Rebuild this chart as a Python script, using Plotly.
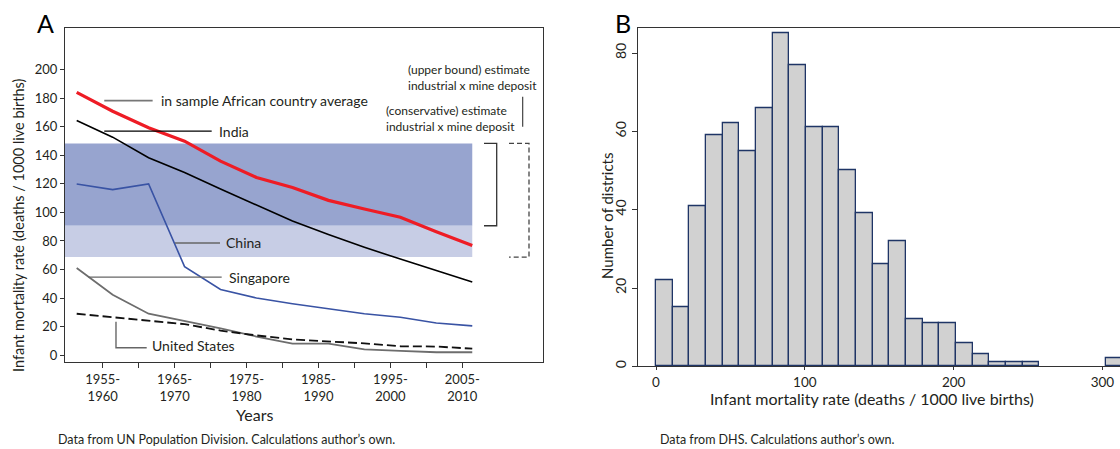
import plotly.graph_objects as go

W, H = 1120, 449
FONT = "Lato"
TXT = "#231f20"


def px(x):
    return x / W


def py(y):
    return 1 - y / H


# ---------------- Panel A data ----------------
periods = ["1950-1955", "1955-1960", "1960-1965", "1965-1970", "1970-1975",
           "1975-1980", "1980-1985", "1985-1990", "1990-1995", "1995-2000",
           "2000-2005", "2005-2010"]
africa_avg = [184.2, 171.0, 159.4, 150.0, 136.0, 124.5, 117.5, 108.5, 102.4, 96.6, 86.5, 76.8]
india = [164.5, 152.8, 138.4, 128.0, 116.5, 105.5, 94.0, 84.5, 75.6, 67.3, 59.3, 51.2]
china = [120.0, 116.0, 120.0, 62.0, 46.0, 40.0, 36.0, 32.5, 29.0, 26.5, 22.5, 20.5]
singapore = [61.0, 42.3, 29.0, 23.8, 18.8, 13.0, 8.0, 8.0, 4.0, 3.0, 2.0, 2.0]
united_states = [29.0, 26.5, 24.0, 21.7, 17.2, 13.8, 11.0, 9.8, 8.2, 6.2, 6.0, 4.5]

# estimate bands (deaths / 1000 live births)
conservative_band = [90.7, 148.4]
upper_bound_band = [68.7, 148.4]

x_tick_text = ["1955-<br>1960", "", "1965-<br>1970", "", "1975-<br>1980", "",
               "1985-<br>1990", "", "1995-<br>2000", "", "2005-<br>2010"]
y_ticks_a = [0, 20, 40, 60, 80, 100, 120, 140, 160, 180, 200]

# ---------------- Panel B data ----------------
bin_width = 11.2
district_counts = [22, 15, 41, 59, 62, 55, 66, 85, 77, 61, 61, 50, 39, 26, 32,
                   12, 11, 11, 6, 3, 1, 1, 1, 0, 0, 0, 0, 2]
x_ticks_b = [0, 100, 200, 300]
y_ticks_b = [0, 20, 40, 60, 80]

x_idx = list(range(len(periods)))

fig = go.Figure()

# Panel A lines
fig.add_trace(go.Scatter(x=x_idx, y=singapore, mode="lines",
                         line=dict(color="#6d6d6d", width=1.8), xaxis="x", yaxis="y"))
fig.add_trace(go.Scatter(x=x_idx, y=united_states, mode="lines",
                         line=dict(color="#111111", width=1.8, dash="9px,4px"), xaxis="x", yaxis="y"))
fig.add_trace(go.Scatter(x=x_idx, y=china, mode="lines",
                         line=dict(color="#3953a4", width=1.6), xaxis="x", yaxis="y"))
fig.add_trace(go.Scatter(x=x_idx, y=india, mode="lines",
                         line=dict(color="#000000", width=1.6), xaxis="x", yaxis="y"))
fig.add_trace(go.Scatter(x=x_idx, y=africa_avg, mode="lines",
                         line=dict(color="#ee1c25", width=3.2), xaxis="x", yaxis="y"))

# Panel B bars
bx, by = [], []
for i, c in enumerate(district_counts):
    if c > 0:
        bx.append(i * bin_width + bin_width / 2)
        by.append(c)
fig.add_trace(go.Bar(x=bx, y=by, width=bin_width, xaxis="x2", yaxis="y2",
                     marker=dict(color="#d1d1d1", line=dict(color="#1f3566", width=1.3))))

last_x = x_idx[-1]
shapes = [
    # bands
    dict(type="rect", xref="x", yref="y", x0=-0.4, x1=last_x,
         y0=conservative_band[0], y1=conservative_band[1],
         fillcolor="#97a4cf", line=dict(width=0), layer="below"),
    dict(type="rect", xref="x", yref="y", x0=-0.4, x1=last_x,
         y0=upper_bound_band[0], y1=conservative_band[0],
         fillcolor="#c7cde5", line=dict(width=0), layer="below"),
    # leader lines
    dict(type="line", xref="x", yref="y", x0=0.767, x1=2.112, y0=178.4, y1=178.4,
         line=dict(color="#777777", width=1.6)),
    dict(type="line", xref="x", yref="y", x0=0.767, x1=3.754, y0=157.0, y1=157.0,
         line=dict(color="#000000", width=1.1)),
    dict(type="line", xref="x", yref="y", x0=2.734, x1=3.985, y0=78.6, y1=78.6,
         line=dict(color="#666666", width=1.4)),
    dict(type="line", xref="x", yref="y", x0=0.322, x1=4.032, y0=54.7, y1=54.7,
         line=dict(color="#666666", width=1.4)),
    dict(type="path", xref="x", yref="y", path="M 1.093 23.3 L 1.093 5.2 L 1.947 5.2",
         line=dict(color="#666666", width=1.4)),
    # brackets
    dict(type="path", xref="paper", yref="y",
         path=f"M {px(484)} {conservative_band[1]} L {px(496.7)} {conservative_band[1]} "
              f"L {px(496.7)} {conservative_band[0]} L {px(484)} {conservative_band[0]}",
         line=dict(color="#333333", width=1.3)),
    dict(type="path", xref="paper", yref="y",
         path=f"M {px(509)} {upper_bound_band[1]} L {px(529)} {upper_bound_band[1]} "
              f"L {px(529)} {upper_bound_band[0]} L {px(509)} {upper_bound_band[0]}",
         line=dict(color="#444444", width=1.3, dash="5px,3px")),
    dict(type="line", xref="paper", yref="paper", x0=px(522.7), x1=px(522.7),
         y0=py(97.3), y1=py(127.3), line=dict(color="#333333", width=1.1)),
]


def ann(text, x, y, xref="paper", yref="paper", xanchor="center", size=14, **kw):
    d = dict(text=text, x=x, y=y, xref=xref, yref=yref, xanchor=xanchor,
             yanchor="middle", showarrow=False, font=dict(size=size, color=TXT))
    d.update(kw)
    return d


annotations = [
    ann("in sample African country average", 2.297, 178.4, "x", "y", "left"),
    ann("India", 3.893, 157.0, "x", "y", "left"),
    ann("China", 4.105, 78.6, "x", "y", "left"),
    ann("Singapore", 4.171, 54.7, "x", "y", "left"),
    ann("United States", 2.039, 6.6, "x", "y", "left"),
    ann("(upper bound) estimate<br>industrial x mine deposit", px(406), py(77.5),
        xanchor="left", size=12, align="left"),
    ann("(conservative) estimate<br>industrial x mine deposit", px(384), py(118.7),
        xanchor="left", size=12, align="left"),
    dict(text="A", x=px(35), y=py(23), xref="paper", yref="paper", xanchor="left",
         yanchor="middle", showarrow=False, font=dict(size=25, color="#000")),
    dict(text="B", x=px(613), y=py(23), xref="paper", yref="paper", xanchor="left",
         yanchor="middle", showarrow=False, font=dict(size=25, color="#000")),
    ann("Infant mortality rate (deaths / 1000 live births)", px(19), py(226),
        size=14.5, textangle=-90),
    ann("Years", px(254), py(416), size=16),
    ann("Data from UN Population Division. Calculations author\u2019s own.", px(56), py(441),
        xanchor="left", size=12.5),
    ann("Number of districts", px(607), py(217), size=15, textangle=-90),
    ann("Infant mortality rate (deaths / 1000 live births)", px(871.7), py(400), size=16),
    ann("Data from DHS. Calculations author\u2019s own.", px(658), py(441),
        xanchor="left", size=12.5),
]

axis_common = dict(showgrid=False, zeroline=False, showline=True, linecolor="#333333",
                   linewidth=1, ticks="outside", tickcolor="#333333",
                   tickfont=dict(family=FONT, size=13, color=TXT))

fig.update_layout(
    width=W, height=H, margin=dict(l=0, r=0, t=0, b=0),
    paper_bgcolor="white", plot_bgcolor="white", showlegend=False,
    font=dict(family=FONT, color=TXT),
    bargap=0,
    xaxis=dict(axis_common, domain=[px(65), px(543)], range=[-0.325, 12.967],
               tickvals=[0.723 + k for k in range(11)], ticktext=x_tick_text,
               ticklen=5, mirror=True, anchor="y"),
    yaxis=dict(axis_common, domain=[py(364), py(28.3)], range=[-5.1, 229.2],
               tickvals=y_ticks_a, ticklen=4, mirror=True, anchor="x"),
    xaxis2=dict(axis_common, domain=[px(638), 1.0], range=[-12.1, 311.8],
                tickvals=x_ticks_b, ticklen=3, mirror=True, anchor="y2",
                tickfont=dict(family=FONT, size=13.5, color=TXT)),
    yaxis2=dict(axis_common, domain=[py(368), py(28.3)], range=[0, 86.35],
                tickvals=y_ticks_b, ticklen=5, tickangle=-90, anchor="x2",
                tickfont=dict(family=FONT, size=14, color=TXT)),
    shapes=shapes,
    annotations=annotations,
)

fig.write_html("out.html")
